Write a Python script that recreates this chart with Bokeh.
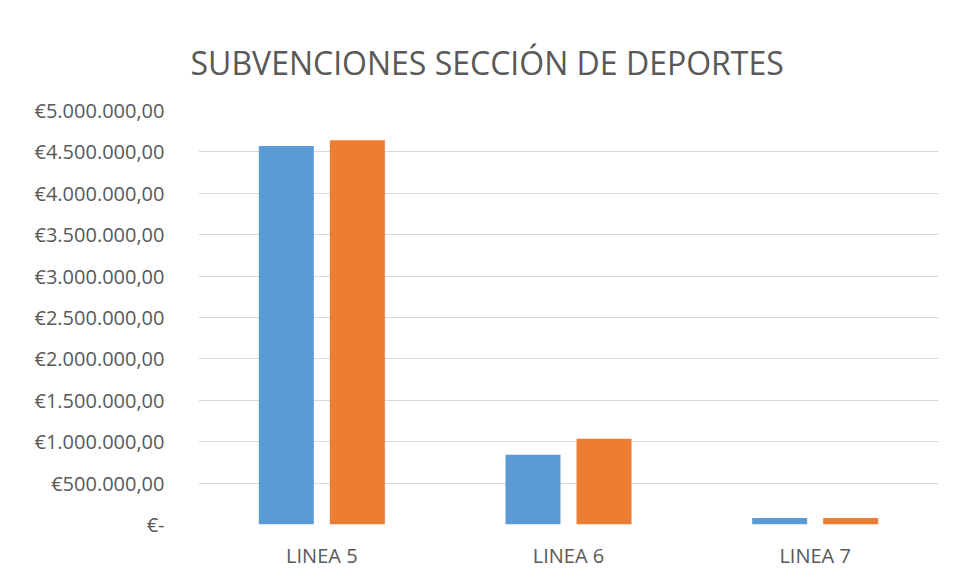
from bokeh.plotting import figure
from bokeh.models import FactorRange, FixedTicker, CustomJSTickFormatter, Range1d, ColumnDataSource, BoxAnnotation
from bokeh.transform import dodge
from bokeh.embed import file_html
from bokeh.resources import INLINE

categories = ["LINEA 5", "LINEA 6", "LINEA 7"]
serie_1 = [4570000, 842000, 78000]
serie_2 = [4640000, 1035000, 78000]
tick_values = [0, 500000, 1000000, 1500000, 2000000, 2500000,
               3000000, 3500000, 4000000, 4500000, 5000000]

TEXT = "#595959"
FONT = "Open Sans"

source = ColumnDataSource(dict(cat=categories, s1=serie_1, s2=serie_2))

p = figure(x_range=FactorRange(*categories), y_range=Range1d(0, 5000000),
           width=950, height=575, output_backend="svg", toolbar_location=None,
           title="SUBVENCIONES SECCIÓN DE DEPORTES")

p.vbar(x=dodge("cat", -0.144, range=p.x_range), top="s1", width=0.223,
       source=source, fill_color="#5B9BD5", line_color=None)
p.vbar(x=dodge("cat", 0.144, range=p.x_range), top="s2", width=0.223,
       source=source, fill_color="#ED7D31", line_color=None)

p.title.text_font = FONT
p.title.text_font_size = "32px"
p.title.text_font_style = "normal"
p.title.text_color = TEXT
p.title.align = "left"
p.title.offset = -8
p.title.standoff = 54

p.min_border_left = 198
p.min_border_right = 12
p.min_border_top = 110
p.min_border_bottom = 51

p.outline_line_color = None
p.xgrid.grid_line_color = None
p.ygrid.grid_line_color = "#d9d9d9"
p.ygrid.grid_line_width = 1

p.yaxis.ticker = FixedTicker(ticks=tick_values)
p.yaxis.formatter = CustomJSTickFormatter(code=r"""
if (tick == 0) { return "€-"; }
var s = Math.round(tick).toString().replace(/\B(?=(\d{3})+(?!\d))/g, ".");
return "€" + s + ",00";
""")
for ax in (p.xaxis, p.yaxis):
    ax.axis_line_color = None
    ax.major_tick_line_color = None
    ax.minor_tick_line_color = None
    ax.major_label_text_font = FONT
    ax.major_label_text_color = TEXT
p.yaxis.major_label_text_font_size = "20px"
p.xaxis.major_label_text_font_size = "20px"
p.yaxis.major_label_standoff = 28
p.xaxis.major_label_standoff = 11

border = BoxAnnotation(left=4, right=2000, top=9, bottom=2000,
                       left_units="canvas", right_units="canvas",
                       top_units="canvas", bottom_units="canvas",
                       fill_color=None, line_color="#d9d9d9", line_width=1.5,
                       level="overlay")
p.add_layout(border)

open("out.html", "w").write(file_html(p, INLINE))
